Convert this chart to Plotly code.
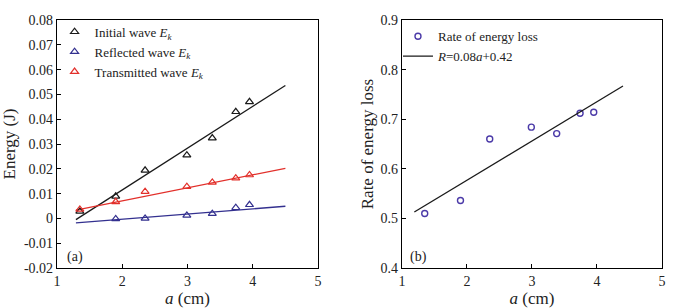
import plotly.graph_objects as go

# ---- data ----
a_vals = [1.35, 1.90, 2.35, 2.99, 3.38, 3.74, 3.95]
initial_ek = [0.0028, 0.0089, 0.0194, 0.0255, 0.0324, 0.0430, 0.0470]
transmitted_ek = [0.0036, 0.0067, 0.0108, 0.0128, 0.0145, 0.0162, 0.0175]
a_reflected = [1.90, 2.35, 2.99, 3.38, 3.74, 3.95]
reflected_ek = [-0.0002, 0.0000, 0.0012, 0.0019, 0.0043, 0.0055]

fit_a = [1.29, 4.50]
fit_initial = [-0.0005, 0.0536]
fit_transmitted = [0.0033, 0.0202]
fit_reflected = [-0.0018, 0.0049]

loss_rate = [0.510, 0.536, 0.660, 0.684, 0.671, 0.712, 0.714]
fit_loss_a = [1.19, 4.40]
fit_loss = [0.513, 0.767]

x_ticks = [1, 2, 3, 4, 5]
y1_ticks = [-0.02, -0.01, 0, 0.01, 0.02, 0.03, 0.04, 0.05, 0.06, 0.07, 0.08]
y1_labels = ["-0.02", "-0.01", "0", "0.01", "0.02", "0.03", "0.04", "0.05", "0.06", "0.07", "0.08"]
y2_ticks = [0.4, 0.5, 0.6, 0.7, 0.8, 0.9]

BLACK = "#1a1a1a"
BLUE = "#33308f"
RED = "#e2302b"
CIRC = "#4b3aa8"
FONT = "Liberation Serif"

fig = go.Figure()

# fit lines (left)
for fy, col in [(fit_initial, BLACK), (fit_reflected, BLUE), (fit_transmitted, RED)]:
    fig.add_trace(go.Scatter(x=fit_a, y=fy, mode="lines", line=dict(color=col, width=1.3),
                             showlegend=False, xaxis="x", yaxis="y", hoverinfo="skip"))

mk = dict(symbol="triangle-up-open", size=7, line=dict(width=1.2))
fig.add_trace(go.Scatter(x=a_vals, y=initial_ek, mode="markers", name="Initial wave <i>E<sub>k</sub></i>",
                         marker=dict(color=BLACK, **mk), xaxis="x", yaxis="y", legend="legend"))
fig.add_trace(go.Scatter(x=a_reflected, y=reflected_ek, mode="markers", name="Reflected wave <i>E<sub>k</sub></i>",
                         marker=dict(color=BLUE, **mk), xaxis="x", yaxis="y", legend="legend"))
fig.add_trace(go.Scatter(x=a_vals, y=transmitted_ek, mode="markers", name="Transmitted wave <i>E<sub>k</sub></i>",
                         marker=dict(color=RED, **mk), xaxis="x", yaxis="y", legend="legend"))

# right panel
fig.add_trace(go.Scatter(x=a_vals, y=loss_rate, mode="markers", name="Rate of energy loss",
                         marker=dict(color=CIRC, symbol="circle-open", size=6, line=dict(width=1.4)),
                         xaxis="x2", yaxis="y2", legend="legend2"))
fig.add_trace(go.Scatter(x=fit_loss_a, y=fit_loss, mode="lines", name="<i>R</i>=0.08<i>a</i>+0.42",
                         line=dict(color=BLACK, width=1.3), xaxis="x2", yaxis="y2", legend="legend2"))

axis_common = dict(showline=True, linecolor="black", linewidth=1.2, mirror=True,
                   ticks="inside", ticklen=4, tickcolor="black", tickwidth=1,
                   showgrid=False, zeroline=False, automargin=False,
                   tickfont=dict(family=FONT, size=14, color="#222"))

fig.update_layout(
    width=680, height=308,
    margin=dict(l=57, r=18, t=20, b=40),
    paper_bgcolor="white", plot_bgcolor="white",
    font=dict(family=FONT, size=14, color="#222"),
    xaxis=dict(domain=[0.0, 0.4314], range=[1, 5], tickvals=x_ticks, anchor="y",
               title=dict(text="<i>a</i> (cm)", font=dict(family=FONT, size=17), standoff=2), **axis_common),
    yaxis=dict(domain=[0, 1], range=[-0.02, 0.08], tickvals=y1_ticks, ticktext=y1_labels, anchor="x",
               title=dict(text="Energy (J)", font=dict(family=FONT, size=17), standoff=6), **axis_common),
    xaxis2=dict(domain=[0.5702, 1.0], range=[1, 5], tickvals=x_ticks, anchor="y2",
                title=dict(text="<i>a</i> (cm)", font=dict(family=FONT, size=17), standoff=2), **axis_common),
    yaxis2=dict(domain=[0, 1], range=[0.4, 0.9], tickvals=y2_ticks, tickformat=".1f", anchor="x2",
                title=dict(text="Rate of energy loss", font=dict(family=FONT, size=17), standoff=2), **axis_common),
    legend=dict(x=-0.004, y=1.013, xanchor="left", yanchor="top", bgcolor="rgba(0,0,0,0)",
                font=dict(family=FONT, size=13), itemwidth=30, tracegroupgap=0),
    legend2=dict(x=0.5636, y=0.995, xanchor="left", yanchor="top", bgcolor="rgba(0,0,0,0)",
                 font=dict(family=FONT, size=13), itemwidth=30, tracegroupgap=0),
    annotations=[
        dict(text="(a)", x=0.013, y=0.044, xref="paper", yref="paper", showarrow=False,
             xanchor="left", yanchor="middle", font=dict(family=FONT, size=14)),
        dict(text="(b)", x=0.58, y=0.044, xref="paper", yref="paper", showarrow=False,
             xanchor="left", yanchor="middle", font=dict(family=FONT, size=14)),
    ],
)

fig.write_html("out.html", config={"displayModeBar": False},
               post_script="document.body.style.margin='0';document.body.style.overflow='hidden';")
